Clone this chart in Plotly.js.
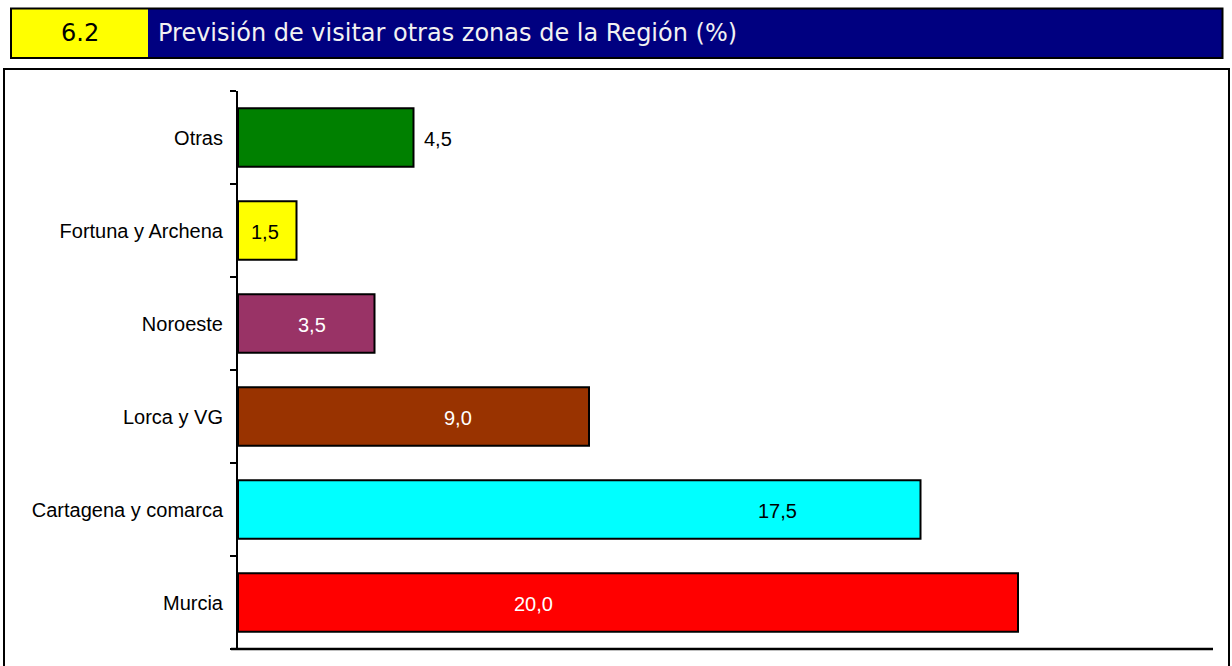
<!DOCTYPE html>
<html>
<head>
<meta charset="utf-8">
<script src="https://cdn.plot.ly/plotly-3.0.1.min.js"></script>
<style>
  html, body { margin: 0; padding: 0; background: #ffffff; }
  #chart { width: 1232px; height: 666px; }
</style>
</head>
<body>
<div id="chart"></div>
<script>
// ---- Data ----
const categories = ['Murcia', 'Cartagena y comarca', 'Lorca y VG', 'Noroeste', 'Fortuna y Archena', 'Otras'];
const values = [20.0, 17.5, 9.0, 3.5, 1.5, 4.5];
const valueLabels = ['20,0', '17,5', '9,0', '3,5', '1,5', '4,5'];
const barColors = ['#FF0000', '#00FFFF', '#993300', '#993366', '#FFFF00', '#008000'];
const labelColors = ['#FFFFFF', '#000000', '#FFFFFF', '#FFFFFF', '#000000', '#000000'];
const sectionNumber = '6.2';
const chartTitle = 'Previsión de visitar otras zonas de la Región (%)';

// ---- Layout geometry (pixels) ----
const W = 1232, H = 666;
const M = { l: 238, r: 19, t: 91, b: 17 };
const PW = W - M.l - M.r, PH = H - M.t - M.b;
const px2x = p => (p - M.l) / PW;
const py2y = p => (H - M.b - p) / PH;

// label placement within bars (fraction of bar length); -1 = outside end
const labelFrac = [0.379, 0.79, 0.628, 0.543, 0.453, -1];

const trace = {
  type: 'bar',
  orientation: 'h',
  y: categories,
  x: values,
  marker: { color: barColors, line: { color: '#000000', width: 2 } },
  hoverinfo: 'none',
  showlegend: false
};

const annotations = categories.map((c, i) => {
  const outside = labelFrac[i] < 0;
  return {
    xref: 'x', yref: 'y',
    x: outside ? values[i] : values[i] * labelFrac[i],
    y: c,
    xanchor: outside ? 'left' : 'center',
    xshift: outside ? 8 : 0,
    yanchor: 'middle',
    yshift: -1,
    text: valueLabels[i],
    showarrow: false,
    font: { family: 'Liberation Sans, Arial, sans-serif', size: 20, color: labelColors[i] }
  };
});

// header texts
annotations.push({
  xref: 'paper', yref: 'paper',
  x: px2x(79.5), y: py2y(33),
  xanchor: 'center', yanchor: 'middle',
  text: sectionNumber, showarrow: false,
  font: { family: 'DejaVu Sans, Verdana, sans-serif', size: 24, color: '#000000' }
});
annotations.push({
  xref: 'paper', yref: 'paper',
  x: px2x(156), y: py2y(33),
  xanchor: 'left', yanchor: 'middle',
  text: chartTitle, showarrow: false,
  font: { family: 'DejaVu Sans, Verdana, sans-serif', size: 24, color: '#F2F2F2' }
});

const shapes = [
  // outer chart frame
  { type: 'rect', xref: 'paper', yref: 'paper', x0: px2x(4), x1: px2x(1229), y0: py2y(69), y1: py2y(672),
    line: { color: '#000000', width: 2 }, fillcolor: 'rgba(0,0,0,0)', layer: 'below' },
  // header yellow
  { type: 'rect', xref: 'paper', yref: 'paper', x0: px2x(11), x1: px2x(148), y0: py2y(8.5), y1: py2y(58),
    line: { width: 0 }, fillcolor: '#FFFF00', layer: 'below' },
  // header blue
  { type: 'rect', xref: 'paper', yref: 'paper', x0: px2x(148), x1: px2x(1222.5), y0: py2y(8.5), y1: py2y(58),
    line: { width: 0 }, fillcolor: '#000080', layer: 'below' },
  // header border
  { type: 'rect', xref: 'paper', yref: 'paper', x0: px2x(11), x1: px2x(1222.5), y0: py2y(8.5), y1: py2y(58),
    line: { color: '#000000', width: 2 }, fillcolor: 'rgba(0,0,0,0)', layer: 'above' },
  // x axis line (extends left past y axis like the original)
  { type: 'line', xref: 'paper', yref: 'paper', x0: px2x(231), x1: px2x(1213), y0: 0, y1: 0,
    line: { color: '#000000', width: 2.5 } }
];

const layout = {
  width: W, height: H,
  margin: M,
  paper_bgcolor: '#FFFFFF',
  plot_bgcolor: '#FFFFFF',
  bargap: 0.37,
  xaxis: {
    range: [0, 25],
    showgrid: false, zeroline: false, showline: false,
    showticklabels: false, ticks: '', fixedrange: true
  },
  yaxis: {
    type: 'category',
    categoryorder: 'array', categoryarray: categories,
    range: [-0.5, 5.5],
    showgrid: false, zeroline: false,
    showline: true, linecolor: '#000000', linewidth: 2,
    ticks: 'outside', tickson: 'boundaries', ticklen: 6, tickwidth: 2, tickcolor: '#000000',
    ticklabelstandoff: 9,
    tickfont: { family: 'Liberation Sans, Arial, sans-serif', size: 20, color: '#000000' },
    fixedrange: true
  },
  annotations: annotations,
  shapes: shapes
};

Plotly.newPlot('chart', [trace], layout, { displayModeBar: false, staticPlot: true });
</script>
</body>
</html>
